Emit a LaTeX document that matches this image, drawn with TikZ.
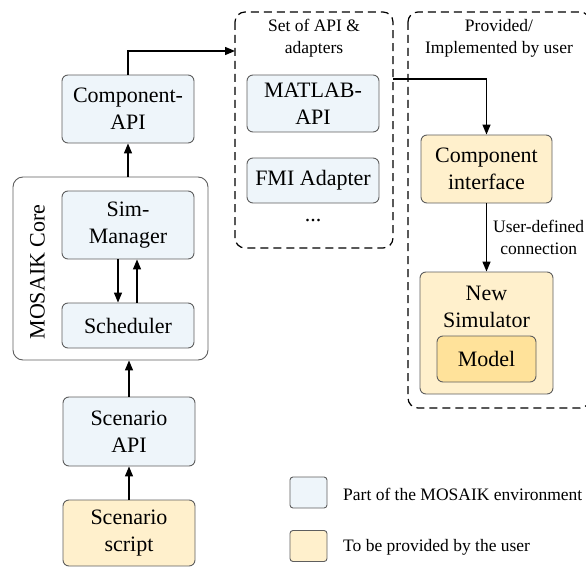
\documentclass[tikz,border=0pt]{standalone}
\usepackage{fontspec}
\setmainfont{Liberation Serif}
\newfontfamily\tnr{Liberation Serif}
\usetikzlibrary{arrows.meta,calc}
\definecolor{envblue}{HTML}{EEF5FA}
\definecolor{useryel}{HTML}{FFF0CC}
\definecolor{modelyel}{HTML}{FFE29A}
\definecolor{bordergray}{HTML}{5E5E5E}
\newcommand{\bigfont}{\tnr\fontsize{22}{27}\selectfont}
\newcommand{\smallfont}{\tnr\fontsize{17.5}{22}\selectfont}
\tikzset{
  cbox/.style={draw=bordergray,line width=0.9pt,rounded corners=6pt,align=center,inner sep=0pt,font=\bigfont},
  envbox/.style={cbox,fill=envblue},
  userbox/.style={cbox,fill=useryel},
  grp/.style={draw=black,line width=1.2pt,dash pattern=on 8pt off 5pt,rounded corners=10pt},
  smalltxt/.style={font=\smallfont,align=center,inner sep=0pt},
  arr/.style={line width=1.3pt,-{Triangle[length=10pt,width=8pt]}}
}
\begin{document}
\begin{tikzpicture}[x=1pt,y=-1pt]
\useasboundingbox (0,0) rectangle (586,567);
% core container
\node[draw=bordergray,line width=0.9pt,rounded corners=10pt,minimum width=195pt,minimum height=183pt,inner sep=0pt] (core) at (110.5,268.5) {};
\node[rotate=90,font=\bigfont,inner sep=0pt] (coretxt) at (37.5,272) {MOSAIK Core};
% left column
\node[envbox,minimum width=132pt,minimum height=68pt] (capi) at (128,109) {Component-\\API};
\node[envbox,minimum width=132pt,minimum height=68pt] (sim) at (128,225) {Sim-\\Manager};
\node[envbox,minimum width=132pt,minimum height=45pt] (sched) at (128,325.5) {Scheduler};
\node[envbox,minimum width=132pt,minimum height=69pt] (sapi) at (129,431.5) {Scenario\\API};
\node[userbox,minimum width=132pt,minimum height=66pt] (sscript) at (129,533) {Scenario\\script};
% set of API group
\draw[grp] (235,12) rectangle (393,248);
\coordinate (setW) at (235,51);
\coordinate (setE) at (393,79);
\node[smalltxt] (settitle) at (314,38) {Set of API \&\\adapters};
\node[envbox,minimum width=132pt,minimum height=57pt] (matlab) at (313,103.5) {MATLAB-\\API};
\node[envbox,minimum width=132pt,minimum height=45pt] (fmi) at (313,180.5) {FMI Adapter};
\node[font=\bigfont,inner sep=0pt] (dots) at (313,221) {...};
% provided group
\draw[grp] (408,12) rectangle (590,408);
\node[smalltxt] (provtitle) at (499,38) {Provided/\\Implemented by user};
\node[userbox,minimum width=131pt,minimum height=68pt] (compif) at (486.5,169) {Component\\interface};
\node[userbox,minimum width=133pt,minimum height=122pt] (newsim) at (486.5,333) {};
\node[font=\bigfont,align=center,inner sep=0pt] (newsimtxt) at (486.5,307) {New\\Simulator};
\node[cbox,fill=modelyel,minimum width=99pt,minimum height=46pt] (model) at (486.5,359) {Model};
% arrows
\draw[arr] (sapi.north) -- (core.south -| sapi.north);
\draw[arr] (sscript.north) -- (sapi.south);
\draw[arr] (core.north -| capi.south) -- (capi.south);
\draw[arr] ([xshift=-10pt]sim.south) -- ([xshift=-10pt]sched.north);
\draw[arr] ([xshift=9pt]sched.north) -- ([xshift=9pt]sim.south);
\draw[arr] (capi.north) |- (setW);
\draw[arr] (setE) -| (compif.north);
\draw[arr] (compif.south) -- node[smalltxt,right=6pt] (udc) {User-defined\\connection} (newsim.north);
% legend
\node[envbox,rounded corners=3pt,minimum width=37pt,minimum height=31pt] (leg1) at (308.5,492.5) {};
\node[userbox,rounded corners=3pt,minimum width=37pt,minimum height=31pt] (leg2) at (308.5,546) {};
\node[smalltxt,anchor=west] (leg1t) at (343,494) {Part of the MOSAIK environment};
\node[smalltxt,anchor=west] (leg2t) at (343,547) {To be provided by the user};
\end{tikzpicture}
\end{document}
